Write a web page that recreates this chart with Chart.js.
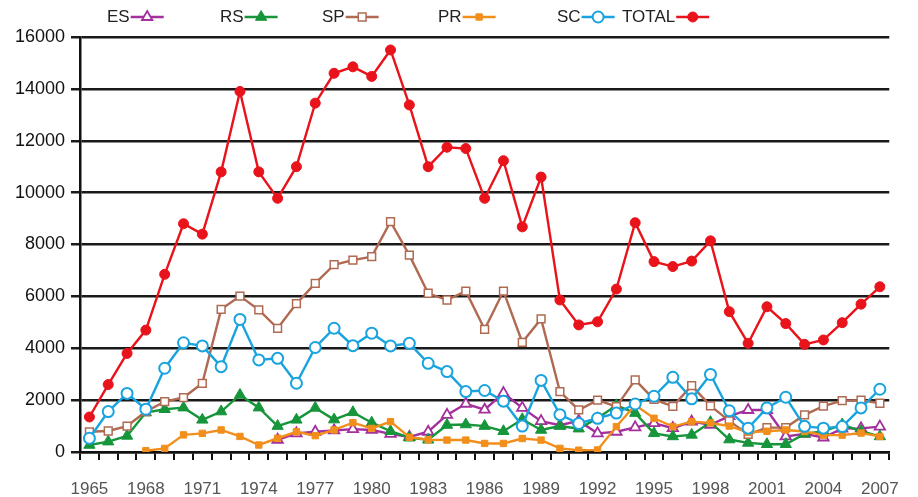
<!DOCTYPE html>
<html>
<head>
<meta charset="utf-8">
<script src="https://cdn.jsdelivr.net/npm/chart.js@4/dist/chart.umd.min.js"></script>
<style>
  html, body { margin: 0; padding: 0; background: #fff; }
  #wrap { width: 918px; height: 497px; position: relative; }
</style>
</head>
<body>
<div id="wrap"><canvas id="c"></canvas></div>
<script>
const years = [];
for (let y = 1965; y <= 2007; y++) years.push(String(y));

const yTicks = [0, 2000, 4000, 6000, 8000, 10000, 12000, 14000, 16000];

const ES = [null, null, null, null, null, null, null, null, null, null,
  470, 720, 780, 830, 880, 850, 700, 580, 780, 1430,
  1860, 1630, 2270, 1700, 1190, 1030, 1200, 720, 780, 950,
  1110, 920, 1170, 1050, 1380, 1620, 1620, 600, 700, 560,
  900, 910, 980];
const RS = [270, 400, 620, 1520, 1650, 1710, 1240, 1560, 2200, 1710,
  1000, 1240, 1700, 1250, 1530, 1130, 800, 550, 470, 1040,
  1060, 1000, 800, 1260, 850, 1000, 900, 1300, 1800, 1500,
  720, 600, 660, 1150, 480, 350, 300, 300, 700, 800,
  1060, 800, 600];
const SP = [780, 810, 1000, 1560, 1940, 2100, 2650, 5500, 6010, 5480,
  4770, 5720, 6500, 7220, 7400, 7530, 8880, 7590, 6120, 5860,
  6200, 4730, 6200, 4230, 5130, 2330, 1620, 2000, 1750, 2780,
  2030, 1760, 2560, 1780, 1200, 680, 940, 940, 1430, 1770,
  1980, 2000, 1880];
const PR = [null, null, null, 50, 140, 660, 720, 850, 600, 270,
  530, 780, 630, 850, 1130, 910, 1170, 570, 470, 460,
  460, 330, 330, 520, 460, 140, 70, 80, 980, 1810,
  1300, 980, 1170, 1120, 1000, 760, 800, 850, 790, 650,
  650, 730, 600];
const SC = [530, 1560, 2260, 1650, 3230, 4210, 4090, 3290, 5110, 3550,
  3610, 2650, 4030, 4770, 4100, 4580, 4090, 4190, 3420, 3100,
  2330, 2370, 1960, 1000, 2760, 1440, 1100, 1300, 1500, 1850,
  2150, 2880, 2050, 2990, 1590, 920, 1700, 2110, 990, 920,
  980, 1700, 2420];
const TOTAL = [1350, 2600, 3800, 4700, 6850, 8800, 8400, 10800, 13900, 10800,
  9780, 11000, 13450, 14600, 14850, 14480, 15500, 13380, 11000, 11750,
  11700, 9780, 11230, 8680, 10600, 5860, 4900, 5020, 6280, 8840,
  7340, 7150, 7360, 8140, 5410, 4190, 5600, 4950, 4150, 4320,
  4985, 5700, 6370];

const seriesNames = ['ES', 'RS', 'SP', 'PR', 'SC', 'TOTAL'];

const styles = {
  ES:    { color: '#a3309c', style: 'triangle', fill: '#ffffff', r: 6,   bw: 1.8 },
  RS:    { color: '#16953b', style: 'triangle', fill: '#16953b', r: 6.5, bw: 1 },
  SP:    { color: '#b06a52', style: 'rect',     fill: '#ffffff', r: 5.5, bw: 1.5 },
  PR:    { color: '#f28f1c', style: 'rect',     fill: '#f28f1c', r: 4.5, bw: 1 },
  SC:    { color: '#19a3df', style: 'circle',   fill: '#ffffff', r: 5.5, bw: 2 },
  TOTAL: { color: '#e8131b', style: 'circle',   fill: '#e8131b', r: 5,   bw: 1 }
};
const values = { ES, RS, SP, PR, SC, TOTAL };

const datasets = seriesNames.slice().reverse().map(name => {
  const s = styles[name];
  return {
    label: name,
    data: values[name],
    borderColor: s.color,
    backgroundColor: s.color,
    borderWidth: 2.4,
    pointStyle: s.style,
    pointRadius: s.r,
    pointBackgroundColor: s.fill,
    pointBorderColor: s.color,
    pointBorderWidth: s.bw,
    tension: 0,
    spanGaps: false
  };
});

function drawMarker(ctx, style, x, y, r, fill, stroke, bw) {
  ctx.save();
  ctx.beginPath();
  if (style === 'circle') {
    ctx.arc(x, y, r, 0, Math.PI * 2);
  } else if (style === 'rect') {
    const s = Math.SQRT1_2 * r;
    ctx.rect(x - s, y - s, 2 * s, 2 * s);
  } else if (style === 'triangle') {
    const t = 2 * Math.PI / 3;
    ctx.moveTo(x, y - r);
    ctx.lineTo(x + Math.sin(t) * r, y - Math.cos(t) * r);
    ctx.lineTo(x + Math.sin(2 * t) * r, y - Math.cos(2 * t) * r);
    ctx.closePath();
  }
  ctx.fillStyle = fill;
  ctx.fill();
  ctx.lineWidth = bw;
  ctx.strokeStyle = stroke;
  ctx.stroke();
  ctx.restore();
}

const legendPlugin = {
  id: 'topLegend',
  afterDraw(chart, args, opts) {
    const ctx = chart.ctx;
    ctx.save();
    ctx.font = '17px "Liberation Sans", Arial, sans-serif';
    ctx.textBaseline = 'middle';
    ctx.fillStyle = '#222';
    seriesNames.forEach((name, i) => {
      const x0 = opts.starts[i];
      const y = opts.y;
      ctx.fillText(name, x0, y);
      const w = ctx.measureText(name).width;
      const lx0 = x0 + w + 1, lx1 = lx0 + 33;
      const s = styles[name];
      ctx.beginPath();
      ctx.moveTo(lx0, y);
      ctx.lineTo(lx1, y);
      ctx.strokeStyle = s.color;
      ctx.lineWidth = 2.4;
      ctx.stroke();
      drawMarker(ctx, s.style, (lx0 + lx1) / 2, y, s.r, s.fill, s.color, s.bw);
    });
    ctx.restore();
  }
};

new Chart(document.getElementById('c'), {
  type: 'line',
  data: { labels: years, datasets },
  plugins: [legendPlugin],
  options: {
    responsive: true,
    maintainAspectRatio: false,
    animation: false,
    layout: { padding: { top: 37, right: 20, left: 0, bottom: 0 } },
    plugins: {
      legend: { display: false },
      tooltip: { enabled: false },
      topLegend: { starts: [107, 220, 322, 438, 557, 622], y: 17 }
    },
    scales: {
      x: {
        type: 'category',
        offset: true,
        afterFit: s => { s.height = 45; },
        border: { display: true, color: '#111', width: 2.5 },
        grid: {
          display: true,
          offset: true,
          drawOnChartArea: false,
          drawTicks: true,
          tickLength: 8,
          color: '#111',
          lineWidth: 2
        },
        ticks: {
          autoSkip: false,
          maxRotation: 0,
          minRotation: 0,
          padding: 19,
          color: '#555',
          font: { family: '"Liberation Sans", Arial, sans-serif', size: 17 },
          callback: function (v, i) {
            return i % 3 === 0 ? years[i] : '';
          }
        }
      },
      y: {
        min: 0,
        max: 16000,
        afterFit: s => { s.width = 80; },
        afterBuildTicks: s => { s.ticks = yTicks.map(v => ({ value: v })); },
        border: { display: true, color: '#111', width: 2.5 },
        grid: {
          color: '#1a1a1a',
          lineWidth: 2.5,
          drawTicks: true,
          tickLength: 9
        },
        ticks: {
          padding: 6,
          color: '#111',
          font: { family: '"Liberation Sans", Arial, sans-serif', size: 18 },
          callback: v => String(v)
        }
      }
    }
  }
});
</script>
</body>
</html>
